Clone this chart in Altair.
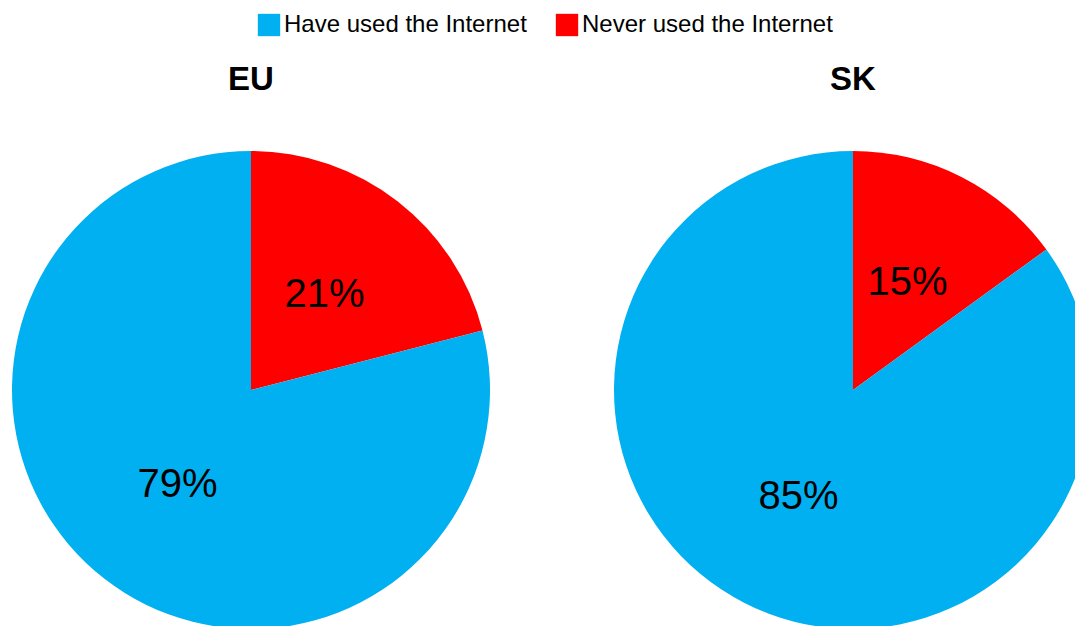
import altair as alt
import pandas as pd

regions = ["EU", "SK"]
have_used = [79, 85]
never_used = [21, 15]
categories = ["Have used the Internet", "Never used the Internet"]
colors = ["#00B0F0", "#FF0000"]

rows = []
for r, h, n in zip(regions, have_used, never_used):
    rows.append({"region": r, "category": categories[1], "value": n, "ord": 0, "label": f"{n}%"})
    rows.append({"region": r, "category": categories[0], "value": h, "ord": 1, "label": f"{h}%"})
df = pd.DataFrame(rows)

centers = {"EU": 251, "SK": 853}
CY = 390
R = 239
FONT = "Liberation Sans"

layers = []
for i, reg in enumerate(regions):
    base = alt.Chart(df).transform_filter(alt.datum.region == reg)
    pie = base.mark_arc(outerRadius=R, stroke=None).encode(
        theta=alt.Theta("value:Q", stack=True),
        color=alt.Color(
            "category:N",
            scale=alt.Scale(domain=categories, range=colors),
            legend=alt.Legend(
                title=None,
                orient="none",
                legendX=257,
                legendY=13,
                direction="horizontal",
                symbolType="square",
                symbolSize=500,
                symbolStrokeWidth=0,
                symbolOpacity=1,
                labelFontSize=24,
                labelFont=FONT,
                labelColor="black",
                labelOffset=3,
                labelLimit=0,
                columnPadding=28,
                padding=0,
            ) if i == 0 else None,
        ),
        order=alt.Order("ord:Q"),
        x=alt.value(centers[reg]),
        y=alt.value(CY),
    )
    lbl = base.mark_text(fontSize=40, font=FONT, color="black", baseline="middle", align="center").encode(
        theta=alt.Theta("value:Q", stack=True),
        order=alt.Order("ord:Q"),
        text="label:N",
        radius=alt.value(120),
        x=alt.value(centers[reg]),
        y=alt.value(CY),
    )
    title = alt.Chart(pd.DataFrame({"region": [reg]})).mark_text(
        fontSize=33, font=FONT, fontWeight="bold", color="black", baseline="middle", align="center"
    ).encode(text="region:N", x=alt.value(centers[reg]), y=alt.value(80))
    layers += [pie, lbl, title]

chart = alt.layer(*layers).properties(
    width=1075, height=626, autosize=alt.AutoSizeParams(type="none"), padding=0
).configure_view(stroke=None).resolve_scale(theta="shared")

chart.save("out.html", embed_options={"renderer": "svg", "actions": False})
